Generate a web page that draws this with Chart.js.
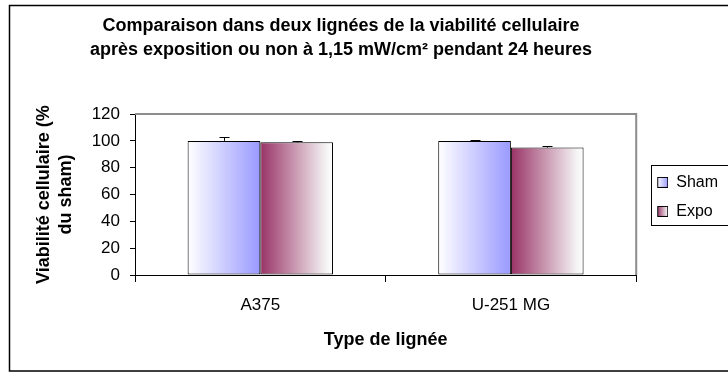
<!DOCTYPE html>
<html>
<head>
<meta charset="utf-8">
<script src="https://cdn.jsdelivr.net/npm/chart.js@4/dist/chart.umd.min.js"></script>
<style>
  html, body { margin: 0; padding: 0; background: #fff; }
  #wrap { width: 728px; height: 372px; }
</style>
</head>
<body>
<div id="wrap"><canvas id="bars"></canvas></div>
<script>
// viabilité cellulaire (% du sham), moyenne et erreur (+)
const categories = ['A375', 'U-251 MG'];
const shamValues = [100, 100];
const expoValues = [99, 95];
const shamErrors = [3, 1];
const expoErrors = [1, 1];
const seriesNames = ['Sham', 'Expo'];
const yMin = 0, yMax = 120, yStep = 20;

const FONT = '"Liberation Sans", Arial, sans-serif';
const CAT_PCT = 0.58;

// colour stops of each series, left -> right
const shamStops = [[0, '#ffffff'], [1, '#9999ff']];
const expoStops = [[0, '#993366'], [0.9, '#f4f2f3'], [1, '#ffffff']];

function fillStops(g, stops) {
  stops.forEach(s => g.addColorStop(s[0], s[1]));
  return g;
}

function barFill(stops, side) {
  return function (c) {
    const chart = c.chart;
    const xs = chart.scales.x;
    if (!chart.chartArea || !xs || c.dataIndex === undefined) return stops[0][1];
    const center = xs.getPixelForValue(c.dataIndex);
    const group = xs.width / categories.length * CAT_PCT;
    const left = side === 0 ? center - group / 2 : center;
    const g = chart.ctx.createLinearGradient(left, 0, left + group / 2, 0);
    return fillStops(g, stops);
  };
}

// small legend swatches, drawn right-aligned inside the legend box slot
function swatch(stops) {
  const cv = document.createElement('canvas');
  cv.width = 19; cv.height = 11;
  const cx = cv.getContext('2d');
  cx.fillStyle = fillStops(cx.createLinearGradient(8, 0, 19, 0), stops);
  cx.fillRect(8, 0, 11, 11);
  cx.strokeStyle = '#000';
  cx.lineWidth = 1;
  cx.strokeRect(8.5, 0.5, 10, 10);
  return cv;
}
const swatches = [swatch(shamStops), swatch(expoStops)];
const errors = [shamErrors, expoErrors];

const framePlugin = {
  id: 'frame',
  afterLayout(chart) {
    // centre the title over the framed area rather than the canvas
    chart.titleBlock.left = 0;
    chart.titleBlock.right = 682;
    chart.titleBlock.width = 682;
  },
  beforeDraw(chart) {
    const ctx = chart.ctx;
    ctx.save();
    ctx.fillStyle = '#fff';
    ctx.fillRect(0, 0, chart.width, chart.height);
    ctx.strokeStyle = '#000';
    ctx.lineWidth = 1.5;
    ctx.strokeRect(9.5, 5.5, chart.width + 10, chart.height - 6.5);
    ctx.restore();
  },
  beforeDatasetsDraw(chart) {
    const a = chart.chartArea;
    const ctx = chart.ctx;
    ctx.save();
    ctx.strokeStyle = '#8c8c8c';
    ctx.lineWidth = 2;
    ctx.beginPath();
    ctx.moveTo(a.left, a.top);
    ctx.lineTo(a.right, a.top);
    ctx.lineTo(a.right, a.bottom);
    ctx.stroke();
    ctx.restore();
  },
  afterDatasetsDraw(chart) {
    const ys = chart.scales.y;
    const ctx = chart.ctx;
    ctx.save();
    ctx.strokeStyle = '#000';
    ctx.lineWidth = 1;
    chart.data.datasets.forEach((ds, i) => {
      chart.getDatasetMeta(i).data.forEach((bar, j) => {
        const y0 = ys.getPixelForValue(ds.data[j]);
        const y1 = Math.round(ys.getPixelForValue(ds.data[j] + errors[i][j])) + 0.5;
        const x = Math.round(bar.x) + 0.5;
        ctx.beginPath();
        ctx.moveTo(x, y0);
        ctx.lineTo(x, y1);
        ctx.moveTo(x - 5, y1);
        ctx.lineTo(x + 5, y1);
        ctx.stroke();
      });
    });
    ctx.restore();
  },
  afterDraw(chart) {
    const boxes = chart.legend.legendHitBoxes;
    if (!boxes || !boxes.length) return;
    const ctx = chart.ctx;
    const first = boxes[0], last = boxes[boxes.length - 1];
    const top = Math.round(first.top + first.height / 2 - 17) + 0.5;
    const bottom = Math.round(last.top + last.height / 2 + 14) + 0.5;
    const left = Math.round(chart.chartArea.right + 15) + 0.5;
    ctx.save();
    ctx.strokeStyle = '#000';
    ctx.lineWidth = 1;
    ctx.strokeRect(left, top, 120, bottom - top);
    ctx.restore();
  }
};

const barConfig = {
  type: 'bar',
  data: {
    labels: categories,
    datasets: [
      {
        label: seriesNames[0],
        data: shamValues,
        backgroundColor: barFill(shamStops, 0),
        borderColor: '#000',
        borderWidth: 1,
        borderSkipped: false
      },
      {
        label: seriesNames[1],
        data: expoValues,
        backgroundColor: barFill(expoStops, 1),
        borderColor: '#000',
        borderWidth: 1,
        borderSkipped: false
      }
    ]
  },
  options: {
    responsive: true,
    maintainAspectRatio: false,
    animation: false,
    devicePixelRatio: 1,
    layout: { padding: { left: 10, top: 5, right: 0, bottom: 0 } },
    datasets: { bar: { categoryPercentage: CAT_PCT, barPercentage: 1 } },
    plugins: {
      tooltip: { enabled: false },
      title: {
        display: true,
        text: ['Comparaison dans deux lignées de la viabilité cellulaire',
               'après exposition ou non à 1,15 mW/cm² pendant 24 heures'],
        color: '#000',
        font: { family: FONT, size: 18, weight: 'bold', lineHeight: 1.28 },
        padding: { top: 10, bottom: 53 }
      },
      legend: {
        position: 'right',
        maxWidth: 93,
        title: { display: true, text: '', padding: 0, font: { size: 14, lineHeight: 1.2 } },
        labels: {
          usePointStyle: true,
          pointStyleWidth: 19,
          padding: 13,
          color: '#000',
          font: { family: FONT, size: 16 },
          generateLabels: chart => chart.data.datasets.map((ds, i) => ({
            text: ds.label,
            pointStyle: swatches[i],
            datasetIndex: i,
            hidden: false,
            lineWidth: 0,
            fillStyle: 'transparent',
            strokeStyle: 'transparent',
            fontColor: '#000'
          }))
        }
      }
    },
    scales: {
      x: {
        afterFit: s => { s.height = 97; },
        grid: {
          offset: true,
          drawOnChartArea: false,
          drawTicks: true,
          tickLength: 7,
          color: '#000'
        },
        border: { color: '#000', width: 1 },
        ticks: { color: '#000', padding: 13, font: { family: FONT, size: 17 } },
        title: {
          display: true,
          text: 'Type de lignée',
          color: '#000',
          font: { family: FONT, size: 18, weight: 'bold', lineHeight: 1.2 },
          padding: { top: 0, bottom: 21 }
        }
      },
      y: {
        min: yMin,
        max: yMax,
        afterFit: s => { s.width = 125; },
        grid: { drawOnChartArea: false, drawTicks: true, tickLength: 5, color: '#000' },
        border: { color: '#000', width: 1 },
        ticks: { stepSize: yStep, color: '#000', padding: 10, font: { family: FONT, size: 17 } },
        title: {
          display: true,
          text: ['Viabilité cellulaire (%', 'du sham)'],
          color: '#000',
          font: { family: FONT, size: 18, weight: 'bold', lineHeight: 1.22 },
          padding: { top: 23, bottom: 0 }
        }
      }
    }
  },
  plugins: [framePlugin]
};

const barsCtx = document.getElementById('bars');
window.myBar = new Chart(barsCtx, barConfig);
</script>
</body>
</html>
